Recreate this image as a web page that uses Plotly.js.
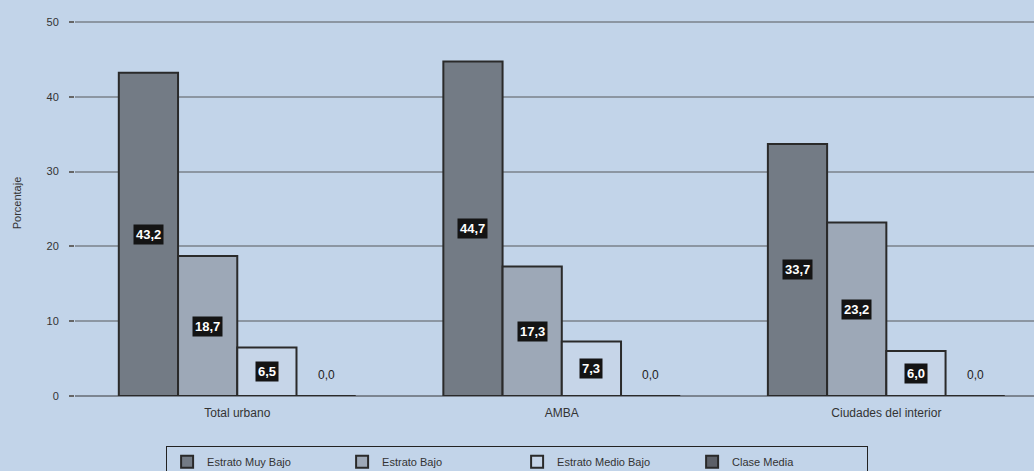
<!DOCTYPE html>
<html>
<head>
<meta charset="utf-8">
<script src="https://cdn.plot.ly/plotly-3.0.1.min.js"></script>
<style>html,body{margin:0;padding:0;background:#c2d4e9;}#chart{width:1034px;height:471px;}</style>
</head>
<body>
<div id="chart"></div>
<script>
const categories = ["Total urbano", "AMBA", "Ciudades del interior"];
const seriesNames = ["Estrato Muy Bajo", "Estrato Bajo", "Estrato Medio Bajo", "Clase Media"];
const muyBajo = [43.2, 44.7, 33.7];
const bajo = [18.7, 17.3, 23.2];
const medioBajo = [6.5, 7.3, 6.0];
const claseMedia = [0.0, 0.0, 0.0];
const yTicks = [0, 10, 20, 30, 40, 50];

const seriesValues = [muyBajo, bajo, medioBajo, claseMedia];
const colors = ["#737b85", "#9da8b7", "#c6d5e8", "#5c6068"];
const bargap = 0.27;

const traces = seriesValues.map((vals, j) => ({
  type: "bar",
  name: seriesNames[j],
  x: categories,
  y: vals,
  marker: {color: colors[j], line: {color: "#2a2a2a", width: 2}},
  hoverinfo: "skip"
}));

const fmt = v => v.toFixed(1).replace(".", ",");
const annotations = [];
const slot = (1 - bargap) / seriesValues.length;
seriesValues.forEach((vals, j) => {
  vals.forEach((v, i) => {
    const xpos = i + (j - (seriesValues.length - 1) / 2) * slot;
    if (v > 0) {
      annotations.push({
        x: xpos, y: v / 2, xref: "x", yref: "y",
        text: "<b>" + fmt(v) + "</b>", showarrow: false,
        font: {family: "Liberation Sans, Arial, sans-serif", size: 13, color: "#ffffff"},
        bgcolor: "#141414", borderpad: 2
      });
    } else {
      annotations.push({
        x: xpos, y: 2.8, xref: "x", yref: "y",
        text: fmt(v), showarrow: false,
        font: {family: "Liberation Sans, Arial, sans-serif", size: 12, color: "#222222"}
      });
    }
  });
});

const layout = {
  width: 1034, height: 471,
  paper_bgcolor: "#c2d4e9", plot_bgcolor: "#c2d4e9",
  margin: {l: 75, r: 0, t: 10, b: 75, autoexpand: false},
  barmode: "group", bargap: bargap, bargroupgap: 0,
  font: {family: "Liberation Sans, Arial, sans-serif", size: 11, color: "#333333"},
  xaxis: {
    type: "category", range: [-0.5, 2.455],
    showgrid: false, showline: false, ticks: "",
    tickfont: {size: 12, color: "#333333"}, ticklabelstandoff: 8
  },
  yaxis: {
    range: [0, 51.6], tickvals: yTicks, ticktext: yTicks.map(String),
    showgrid: true, gridcolor: "#8c96a2", gridwidth: 2,
    zeroline: true, zerolinecolor: "#7c8591", zerolinewidth: 2,
    ticks: "outside", ticklen: 5, tickcolor: "#666666", tickwidth: 2,
    ticklabelstandoff: 8, tickfont: {size: 11, color: "#333333"},
    title: {text: "Porcentaje", font: {size: 11, color: "#333333"}, standoff: 22}
  },
  legend: {
    orientation: "h", x: 0.095, xanchor: "left", y: -0.13, yanchor: "top",
    bordercolor: "#222222", borderwidth: 1, bgcolor: "#c2d4e9",
    entrywidth: 130, entrywidthmode: "pixels", itemwidth: 30,
    font: {size: 11, color: "#333333"}, traceorder: "normal"
  },
  annotations: annotations,
  showlegend: true
};

Plotly.newPlot("chart", traces, layout, {displayModeBar: false, staticPlot: true});
</script>
</body>
</html>
